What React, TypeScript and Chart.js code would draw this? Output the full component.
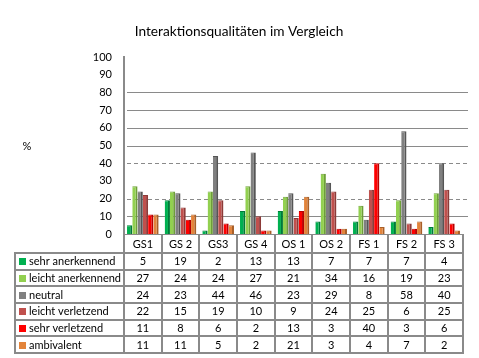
import { useEffect, useRef } from 'react';
import { Chart, registerables } from 'chart.js';
Chart.register(...registerables);

const TITLE = 'Interaktionsqualitäten im Vergleich';
const Y_LABEL = '%';
const categories = ['GS1', 'GS 2', 'GS3', 'GS 4', 'OS 1', 'OS 2', 'FS 1', 'FS 2', 'FS 3'];
const seriesNames = ['sehr anerkennend', 'leicht anerkennend', 'neutral', 'leicht verletzend', 'sehr verletzend', 'ambivalent'];
const sehrAnerkennend = [5, 19, 2, 13, 13, 7, 7, 7, 4];
const leichtAnerkennend = [27, 24, 24, 27, 21, 34, 16, 19, 23];
const neutral = [24, 23, 44, 46, 23, 29, 8, 58, 40];
const leichtVerletzend = [22, 15, 19, 10, 9, 24, 25, 6, 25];
const sehrVerletzend = [11, 8, 6, 2, 13, 3, 40, 3, 6];
const ambivalent = [11, 11, 5, 2, 21, 3, 4, 7, 2];
const seriesValues = [sehrAnerkennend, leichtAnerkennend, neutral, leichtVerletzend, sehrVerletzend, ambivalent];
const yTicks = [0, 10, 20, 30, 40, 50, 60, 70, 80, 90, 100];

const colors = ['#00B050', '#92D050', '#808080', '#C0504D', '#FF0000', '#E3843B'];
const darkColors = ['#007A38', '#6E9E3A', '#555555', '#8C3A38', '#B80000', '#A85F28'];
const SOLID_GRID = [10, 50, 60, 70, 80];
const DASHED_GRID = [20, 40];
const FONT = 'Lato, "Open Sans", sans-serif';
const GRID_COLOR = '#8a8a8a';

const gridPlugin = {
  id: 'customGrid',
  beforeDatasetsDraw(chart: any) {
    const { ctx, chartArea } = chart;
    const y = chart.scales.y;
    ctx.save();
    ctx.strokeStyle = GRID_COLOR;
    ctx.lineWidth = 1;
    SOLID_GRID.forEach((v) => {
      const py = Math.round(y.getPixelForValue(v)) + 0.5;
      ctx.setLineDash([]);
      ctx.beginPath();
      ctx.moveTo(chartArea.left + 3, py);
      ctx.lineTo(chartArea.right + 5, py);
      ctx.stroke();
    });
    DASHED_GRID.forEach((v) => {
      const py = Math.round(y.getPixelForValue(v)) + 0.5;
      ctx.setLineDash([4, 3]);
      ctx.beginPath();
      ctx.moveTo(chartArea.left + 3, py);
      ctx.lineTo(chartArea.right + 5, py);
      ctx.stroke();
    });
    ctx.restore();
  },
};

const tablePlugin = {
  id: 'dataTable',
  afterDraw(chart: any) {
    const { ctx, chartArea } = chart;
    const x = chart.scales.x;
    const n = categories.length;
    const slot = (chartArea.right - chartArea.left) / n;
    const tableLeft = 15;
    const tableRight = chartArea.right;
    const floor = chartArea.bottom;
    const headerBottom = floor + 19;
    const tableBottom = 353;
    const rowH = (tableBottom - headerBottom) / seriesNames.length;

    ctx.save();
    // Title
    ctx.fillStyle = '#000';
    ctx.font = `13.7px ${FONT}`;
    ctx.textAlign = 'center';
    ctx.textBaseline = 'middle';
    ctx.fillText(TITLE, 239, 32);
    // % label
    ctx.font = `11px ${FONT}`;
    ctx.fillText(Y_LABEL, 27, 146);

    // lines
    ctx.strokeStyle = GRID_COLOR;
    ctx.lineWidth = 2;
    ctx.setLineDash([]);
    for (let i = 0; i <= n; i++) {
      const px = Math.round(chartArea.left + i * slot);
      ctx.beginPath();
      ctx.moveTo(px, floor);
      ctx.lineTo(px, tableBottom + 1);
      ctx.stroke();
    }
    ctx.beginPath();
    ctx.moveTo(tableLeft, headerBottom);
    ctx.lineTo(tableLeft, tableBottom + 1);
    ctx.stroke();
    for (let r = 0; r <= seriesNames.length; r++) {
      const py = Math.round(headerBottom + r * rowH);
      ctx.beginPath();
      ctx.moveTo(tableLeft - 1, py);
      ctx.lineTo(tableRight + 1, py);
      ctx.stroke();
    }

    // header labels
    ctx.fillStyle = '#000';
    ctx.font = `11px ${FONT}`;
    ctx.textAlign = 'center';
    categories.forEach((c, i) => {
      ctx.fillText(c, x.getPixelForValue(i), (floor + headerBottom) / 2 + 1);
    });

    // rows
    seriesNames.forEach((name, r) => {
      const cy = headerBottom + r * rowH + rowH / 2 + 0.5;
      ctx.fillStyle = colors[r];
      ctx.fillRect(tableLeft + 4, Math.round(cy - 3.5), 7, 7);
      ctx.fillStyle = '#000';
      ctx.textAlign = 'left';
      ctx.fillText(name, tableLeft + 14, cy);
      ctx.textAlign = 'center';
      seriesValues[r].forEach((v, i) => {
        ctx.fillText(String(v), x.getPixelForValue(i), cy);
      });
    });
    ctx.restore();
  },
};

export default function App() {
  const ref = useRef<HTMLCanvasElement>(null);
  useEffect(() => {
    document.body.style.margin = '0';
    const chart = new Chart(ref.current as HTMLCanvasElement, {
      type: 'bar',
      data: {
        labels: categories,
        datasets: seriesNames.map((name, i) => ({
          label: name,
          data: seriesValues[i],
          backgroundColor: colors[i],
          borderColor: darkColors[i],
          borderWidth: { top: 1, right: 2, left: 0, bottom: 0 },
          borderSkipped: 'bottom',
          categoryPercentage: 0.84,
          barPercentage: 1,
        })),
      },
      options: {
        responsive: false,
        devicePixelRatio: 1,
        animation: false,
        layout: { padding: { left: 0, right: 16, top: 57, bottom: 124 } },
        plugins: {
          legend: { display: false },
          title: { display: false },
          tooltip: { enabled: false },
        },
        scales: {
          x: {
            grid: { display: false, drawTicks: false },
            border: { display: true, color: GRID_COLOR, width: 1 },
            ticks: { display: false },
            afterFit(s: any) {
              s.height = 0;
            },
          },
          y: {
            min: 0,
            max: 100,
            afterBuildTicks(s: any) {
              s.ticks = yTicks.map((v) => ({ value: v }));
            },
            ticks: { color: '#000', font: { family: FONT, size: 11 }, padding: 12 },
            grid: { display: false, drawTicks: false, tickLength: 0 },
            border: { display: true, color: GRID_COLOR, width: 2 },
            afterFit(s: any) {
              s.width = 124;
            },
          },
        },
      },
      plugins: [gridPlugin, tablePlugin],
    } as any);
    return () => chart.destroy();
  }, []);
  return (
    <div style={{ width: 479, height: 358 }}>
      <canvas ref={ref} width={479} height={358} style={{ display: 'block' }} />
    </div>
  );
}
